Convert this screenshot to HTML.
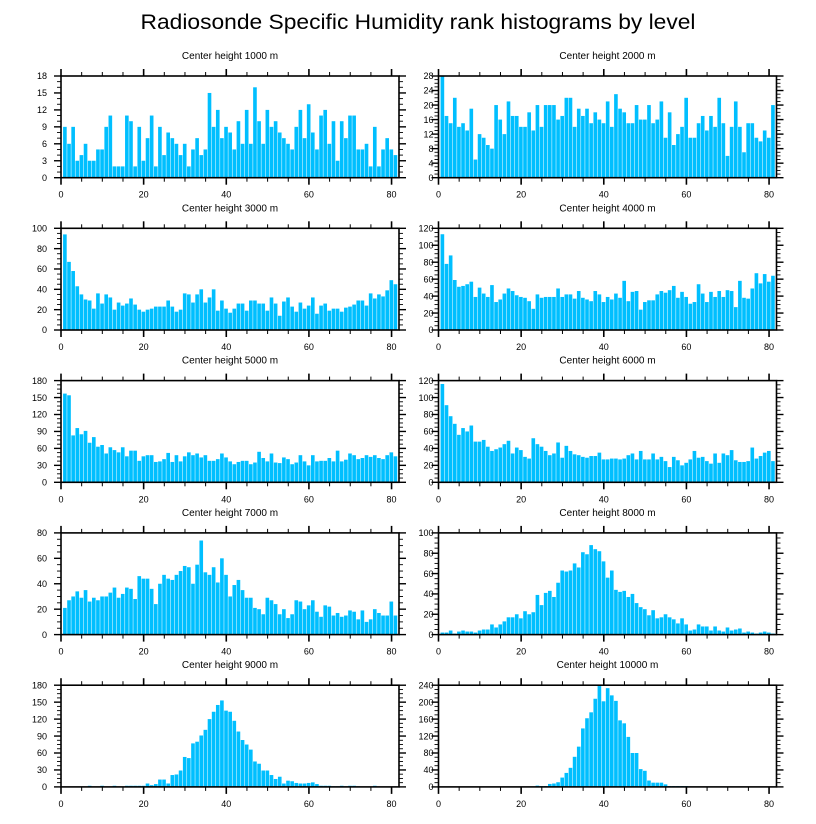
<!DOCTYPE html>
<html><head><meta charset="utf-8"><style>
html,body{margin:0;padding:0;background:#fff;}
svg{display:block;font-family:"Liberation Sans",sans-serif;}
</style></head><body>
<svg id="chart" width="816" height="824" viewBox="0 0 816 824">
<text x="418" y="29" text-anchor="middle" font-size="21" textLength="555" lengthAdjust="spacingAndGlyphs">Radiosonde Specific Humidity rank histograms by level</text>
</svg>
<script>
const panelTitles = ["Center height 1000 m","Center height 2000 m","Center height 3000 m","Center height 4000 m","Center height 5000 m","Center height 6000 m","Center height 7000 m","Center height 8000 m","Center height 9000 m","Center height 10000 m"];
const yMax = [18,28,100,120,180,120,80,100,180,240];
const yStep = [3,4,20,20,30,20,20,20,30,40];
const xTicks = [0,20,40,60,80];
const h1000 = [9,6,9,3,4,6,3,3,5,5,9,11,2,2,2,11,10,2,9,3,7,11,2,9,4,8,7,6,4,6,2,5,7,4,5,15,9,12,7,9,8,5,10,6,12,6,16,10,6,12,9,10,8,7,6,5,9,12,7,13,8,5,11,12,6,10,3,10,7,11,11,5,5,6,2,9,2,5,7,5,4];
const h2000 = [28,17,15,22,14,15,13,19,5,12,11,9,8,20,16,12,21,17,17,14,14,18,13,20,14,20,20,20,16,17,22,22,14,19,17,19,15,18,16,15,21,14,23,19,18,15,15,20,16,16,20,15,16,21,11,18,9,12,14,22,11,11,15,17,13,17,14,22,15,6,14,21,14,7,15,15,11,10,13,11,20];
const h3000 = [94,67,58,43,35,30,29,21,36,26,35,32,20,27,24,26,31,25,20,18,20,21,23,23,23,29,23,18,20,36,35,27,35,40,27,32,40,19,29,21,17,21,26,26,19,29,29,26,26,19,32,26,14,28,32,23,18,27,21,24,32,16,24,26,19,21,21,18,22,23,25,29,29,24,36,31,35,33,39,49,45];
const h4000 = [113,78,88,59,51,52,54,57,39,50,43,39,53,33,36,43,49,46,41,39,38,34,25,42,38,39,39,39,49,39,42,42,37,46,38,36,34,46,42,33,39,36,43,38,58,34,45,46,24,33,35,35,42,46,44,47,52,38,45,39,31,33,54,43,33,45,39,46,39,47,46,27,58,38,37,49,67,55,66,57,64];
const h5000 = [157,154,83,96,85,91,70,80,63,66,51,62,57,53,62,46,56,56,38,46,48,48,36,37,41,52,36,48,37,46,53,48,51,44,48,38,38,41,51,44,37,32,36,38,38,32,35,54,43,37,51,35,34,44,41,32,35,48,37,30,48,37,38,38,43,37,56,37,40,51,48,41,43,48,45,48,43,41,48,53,46];
const h6000 = [116,91,78,69,56,64,60,67,48,48,50,42,37,39,41,45,49,34,41,38,30,28,52,45,42,37,32,34,47,29,43,37,33,32,30,29,31,31,35,27,27,28,28,27,28,32,34,27,37,27,27,34,27,30,25,18,30,26,20,23,27,37,29,30,25,22,34,23,34,32,38,26,24,24,25,41,28,31,35,37,25];
const h7000 = [21,27,30,34,29,35,26,29,27,30,30,33,37,29,32,37,36,28,46,44,44,36,24,40,47,44,43,47,50,54,53,40,55,74,49,47,53,41,60,47,30,39,43,35,29,29,21,20,16,29,27,24,16,20,13,16,27,26,20,23,27,18,14,23,22,15,17,14,15,19,18,12,19,10,12,20,17,15,15,26,15];
const h8000 = [2,2,4,1,3,4,3,3,2,4,5,5,10,7,10,13,17,17,20,16,23,20,22,39,29,41,43,37,51,63,62,63,70,66,81,79,88,84,82,72,56,63,44,42,43,37,40,31,27,25,19,24,16,17,20,17,15,11,16,10,4,5,10,8,8,4,8,4,3,7,4,5,6,2,3,2,1,2,3,2,1];
const h9000 = [0,0,0,0,0,0,2,0,0,2,0,0,2,0,0,2,2,2,2,2,6,3,5,13,13,6,21,22,29,53,51,77,80,91,101,120,133,145,153,135,133,117,98,83,75,66,45,41,29,29,21,14,18,6,11,10,7,6,6,7,8,5,2,2,2,1,1,2,1,2,2,1,0,0,0,2,0,0,0,0,0];
const h10000 = [0,0,0,0,0,0,0,0,0,0,0,0,0,0,0,0,0,0,0,1,0,0,1,3,2,2,7,8,11,22,33,45,71,95,138,162,176,208,238,202,233,216,203,157,150,118,80,80,42,38,15,10,10,10,6,2,2,2,2,2,1,1,1,0,0,1,1,0,0,0,1,0,0,0,0,0,0,0,0,0,0];
const panelData = [h1000,h2000,h3000,h4000,h5000,h6000,h7000,h8000,h9000,h10000];

const NS = "http://www.w3.org/2000/svg";
const svg = document.getElementById("chart");
const XMAX = 81.8;
function mk(tag, attrs, parent){
  const e = document.createElementNS(NS, tag);
  for (const k in attrs) e.setAttribute(k, attrs[k]);
  parent.appendChild(e);
  return e;
}
for (let p = 0; p < 10; p++) {
  const col = p % 2, row = Math.floor(p / 2);
  const L = col === 0 ? 61 : 438.5, W = 338;
  const T = 76 + row * 152.3, H = 101.7, B = T + H;
  const xS = v => L + v / XMAX * W;
  const yS = v => B - v / yMax[p] * H;
  const g = mk("g", {}, svg);
  
  
  const t = mk("text", {x: L + W / 2, y: T - 17, "text-anchor": "middle", "font-size": "10"}, g);
  t.textContent = panelTitles[p];
  
  
  const vals = panelData[p];
  for (let i = 0; i < vals.length; i++) {
    const c = i + 1;
    const x0 = xS(c - 0.5), x1 = xS(c + 0.5);
    const r = mk("rect", {x: x0, y: yS(vals[i]), width: Math.max(0, x1 - x0 - 0.5), height: B - yS(vals[i]), fill: "#00bfff"}, g);
    
    
  }
  const f = mk("rect", {x: L, y: T, width: W, height: H, fill: "none", stroke: "#000", "stroke-width": "1.6"}, g);
  
  
  for (let v = 0; v <= 80; v += 5) {
    const major = v % 20 === 0, len = major ? 7 : 4, x = xS(v);
    mk("line", {x1: x, x2: x, y1: B, y2: B + len, stroke: "#000", "stroke-width": major ? 1.6 : 1}, g);
    mk("line", {x1: x, x2: x, y1: T, y2: T - len, stroke: "#000", "stroke-width": major ? 1.6 : 1}, g);
  }
  for (const v of xTicks) {
    const tl = mk("text", {x: xS(v), y: B + 20, "text-anchor": "middle", "font-size": "9"}, g);
    tl.textContent = v;
    
    
  }
  const step = yStep[p], sub = step === 3 ? 3 : 4;
  for (let k = 0; k <= yMax[p] / step * sub; k++) {
    const v = k * step / sub, major = k % sub === 0, len = major ? 7 : 4, y = yS(v);
    mk("line", {x1: L, x2: L - len, y1: y, y2: y, stroke: "#000", "stroke-width": major ? 1.4 : 0.9}, g);
    mk("line", {x1: L + W, x2: L + W + len, y1: y, y2: y, stroke: "#000", "stroke-width": major ? 1.4 : 0.9}, g);
    if (major) {
      const yl = mk("text", {x: L - (col === 0 ? 14 : 5), y: y + 3.2, "text-anchor": "end", "font-size": "9"}, g);
      yl.textContent = v;
      
      
    }
  }
}
</script>
</body></html>
